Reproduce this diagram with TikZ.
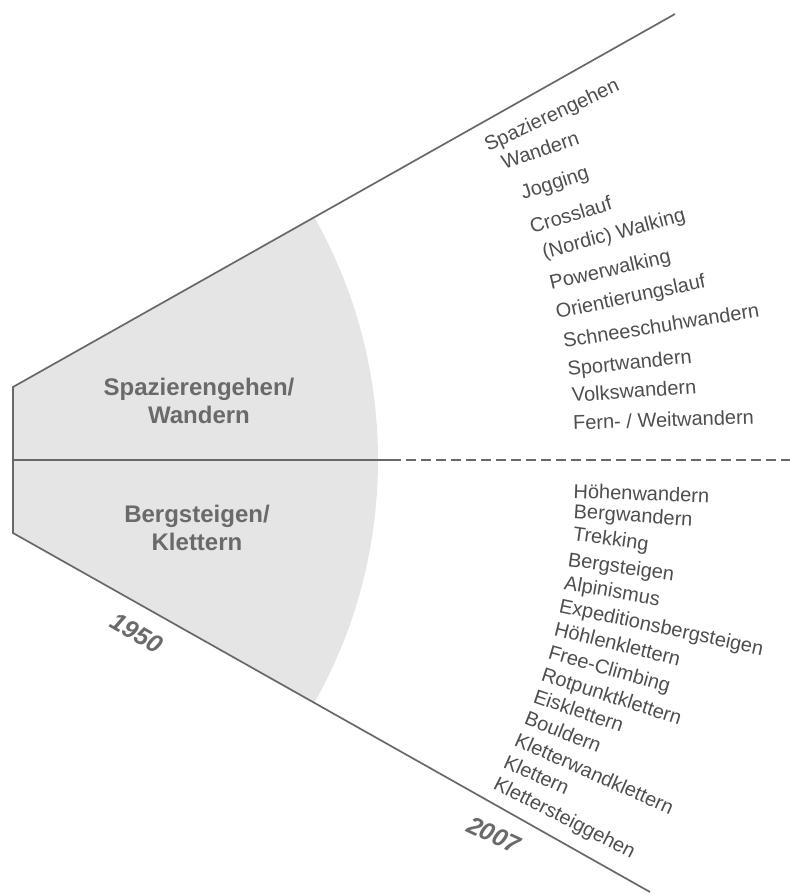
\documentclass[tikz,border=0pt]{standalone}
\usepackage{fontspec}
\setmainfont{Liberation Sans}
\definecolor{rimgray}{HTML}{686868}
\definecolor{fillgray}{HTML}{E5E5E5}
\definecolor{itemgray}{HTML}{4E4E4E}
\definecolor{fieldgray}{HTML}{6A6A6A}

\begin{document}
\begin{tikzpicture}[x=0.5pt,y=-0.5pt]
	\tikzstyle{rim}=[draw=rimgray, line width=0.85pt]
	\tikzstyle{item}=[anchor=base west, inner sep=0pt, text=itemgray, font=\fontsize{10}{12}\selectfont]
	\tikzstyle{field}=[text=fieldgray, align=center, font=\fontsize{12}{14}\selectfont\bfseries]
	\tikzstyle{year}=[text=fieldgray, font=\fontsize{12.5}{14}\selectfont\bfseries\itshape]
	\useasboundingbox (0,0) rectangle (790,895);
	% wedge corners
	\coordinate (apex) at (-116,460);
	\coordinate (tl) at (13,387);
	\coordinate (bl) at (13,533);
	\coordinate (tr) at (675,14);
	\coordinate (br) at (650,892);
	\coordinate (ml) at (13,460);
	\coordinate (mm) at (391,460);
	\coordinate (mr) at (790,460);
	% 1950 area
	\begin{scope}
		\clip (tl) -- (tr) -- (br) -- (bl) -- cycle;
		\fill[fillgray] (apex) circle [radius=494];
	\end{scope}
	\draw[rim] (tr) -- (tl) -- (bl) -- (br);
	\draw[rim] (ml) -- (mm);
	\draw[rim, dash pattern=on 5pt off 2.5pt] (mm) -- (mr);
	\node[field] (walkfield) at (199,401) {Spazierengehen/\\Wandern};
	\node[field] (climbfield) at (197,528) {Bergsteigen/\\Klettern};
	\node[year, rotate=-30] (y1950) at (137,633) {1950};
	\node[year, rotate=-25] (y2007) at (494,835) {2007};
	% 2007: walking
	\node[item, rotate=25] (w1) at (488,152) {Spazierengehen};
	\node[item, rotate=19] (w2) at (504,170) {Wandern};
	\node[item, rotate=18] (w3) at (523,200) {Jogging};
	\node[item, rotate=17] (w4) at (532,234) {Crosslauf};
	\node[item, rotate=15] (w5) at (544,259) {(Nordic) Walking};
	\node[item, rotate=13] (w6) at (551,290) {Powerwalking};
	\node[item, rotate=12] (w7) at (557,319) {Orientierungslauf};
	\node[item, rotate=9] (w8) at (564,348) {Schneeschuhwandern};
	\node[item, rotate=6] (w9) at (568,376) {Sportwandern};
	\node[item, rotate=4] (w10) at (572,402) {Volkswandern};
	\node[item, rotate=2] (w11) at (573,430) {Fern- / Weitwandern};
	% 2007: climbing
	\node[item, rotate=-2] (c1) at (573,498) {Höhenwandern};
	\node[item, rotate=-4] (c2) at (573,518) {Bergwandern};
	\node[item, rotate=-8] (c3) at (572,540) {Trekking};
	\node[item, rotate=-8] (c4) at (567,566) {Bergsteigen};
	\node[item, rotate=-10] (c5) at (563,589) {Alpinismus};
	\node[item, rotate=-12] (c6) at (558,612) {Expeditionsbergsteigen};
	\node[item, rotate=-14] (c7) at (553,635) {Höhlenklettern};
	\node[item, rotate=-16] (c8) at (547,658) {Free-Climbing};
	\node[item, rotate=-18] (c9) at (540,680) {Rotpunktklettern};
	\node[item, rotate=-19] (c10) at (532,702) {Eisklettern};
	\node[item, rotate=-22] (c11) at (523,723) {Bouldern};
	\node[item, rotate=-24] (c12) at (513,745) {Kletterwandklettern};
	\node[item, rotate=-24] (c13) at (502,767) {Klettern};
	\node[item, rotate=-27] (c14) at (492,788) {Klettersteiggehen};
\end{tikzpicture}
\end{document}
